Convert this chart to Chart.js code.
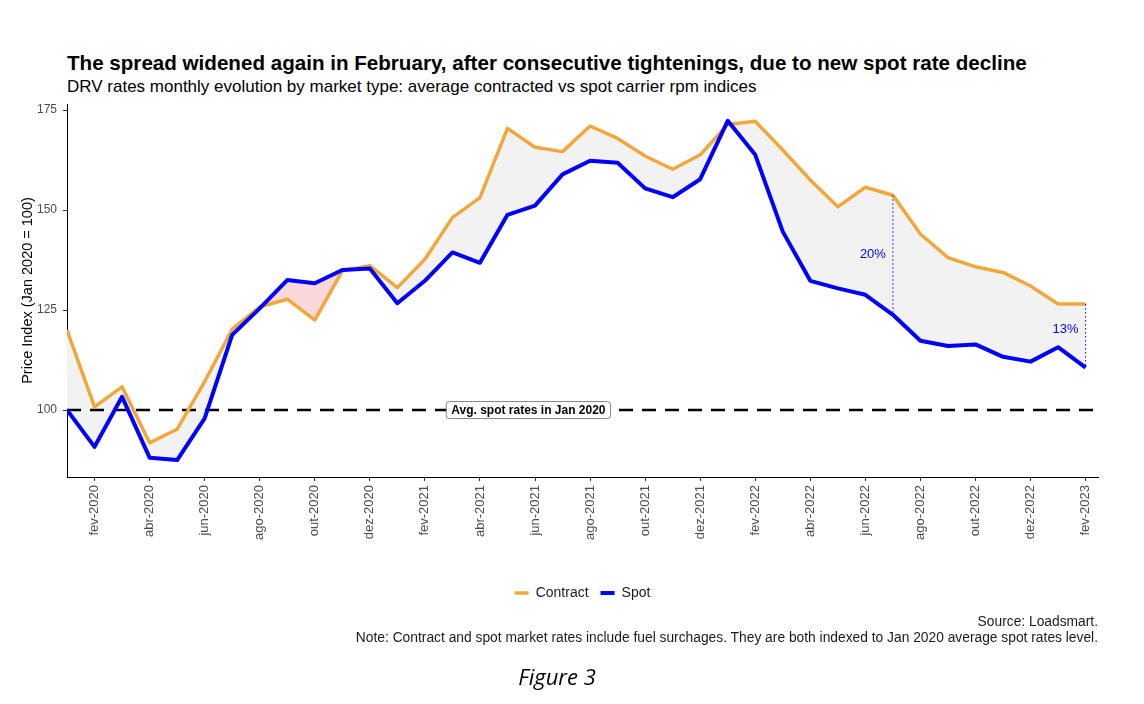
<!DOCTYPE html>
<html>
<head>
<meta charset="utf-8">
<script src="https://cdn.jsdelivr.net/npm/chart.js@4.4.1/dist/chart.umd.min.js"></script>
<style>
  html, body { margin: 0; padding: 0; background: #fff; }
  body { width: 1144px; height: 704px; position: relative; overflow: hidden; font-family: "Liberation Sans", Arial, sans-serif; }
  #chart { position: absolute; left: 0; top: 0; }
  .txt { position: absolute; white-space: nowrap; line-height: 1; color: #000; }
  #title { left: 67px; top: 53px; font-size: 20.6px; font-weight: bold; }
  #subtitle { left: 67px; top: 78px; font-size: 17px; }
  #caption { right: 46px; top: 614px; font-size: 13.8px; text-align: right; line-height: 16px; color: #1a1a1a; }
  #figure { left: 0; width: 1114px; top: 665px; text-align: center; font-family: "Open Sans", sans-serif; font-style: italic; font-size: 22px; }
</style>
</head>
<body>
<div id="title" class="txt">The spread widened again in February, after consecutive tightenings, due to new spot rate decline</div>
<div id="subtitle" class="txt">DRV rates monthly evolution by market type: average contracted vs spot carrier rpm indices</div>
<canvas id="chart" width="1144" height="704"></canvas>
<div id="caption" class="txt">Source: Loadsmart.<br>Note: Contract and spot market rates include fuel surchages. They are both indexed to Jan 2020 average spot rates level.</div>
<div id="figure" class="txt">Figure 3</div>
<script>
// months jan-2020 .. fev-2023
const months = [
  'jan-2020', 'fev-2020', 'mar-2020', 'abr-2020', 'mai-2020', 'jun-2020', 'jul-2020', 'ago-2020', 'set-2020', 'out-2020', 'nov-2020', 'dez-2020',
  'jan-2021', 'fev-2021', 'mar-2021', 'abr-2021', 'mai-2021', 'jun-2021', 'jul-2021', 'ago-2021', 'set-2021', 'out-2021', 'nov-2021', 'dez-2021',
  'jan-2022', 'fev-2022', 'mar-2022', 'abr-2022', 'mai-2022', 'jun-2022', 'jul-2022', 'ago-2022', 'set-2022', 'out-2022', 'nov-2022', 'dez-2022',
  'jan-2023', 'fev-2023'
]
const contract = [
  120.0, 100.8, 105.8, 91.8, 95.2, 107.1, 120.2, 125.8, 127.7, 122.5, 134.8, 136.1,
  130.6, 137.7, 148.1, 153.1, 170.4, 165.7, 164.6, 171.0, 167.9, 163.5, 160.2, 163.8,
  171.4, 172.2, 165.0, 157.5, 150.8, 155.7, 153.7, 144.0, 138.1, 135.8, 134.4, 131.0,
  126.5, 126.5
]
const spot = [
  100.0, 90.8, 103.3, 88.1, 87.5, 97.9, 118.8, 125.4, 132.5, 131.7, 135.0, 135.4,
  126.7, 132.3, 139.4, 136.8, 148.8, 151.1, 158.9, 162.3, 161.8, 155.4, 153.2, 157.7,
  172.3, 163.8, 144.6, 132.3, 130.4, 128.8, 123.8, 117.3, 116.0, 116.4, 113.3, 112.1,
  115.7, 110.6
]
const xTicks = [1, 3, 5, 7, 9, 11, 13, 15, 17, 19, 21, 23, 25, 27, 29, 31, 33, 35, 37]
const yTicks = [100, 125, 150, 175]

const refLine = 100
const refText = 'Avg. spot rates in Jan 2020'
const refLabelX = 16.76

const spreadIdx = [30, 37]
const spreadText = ['20%', '13%']
const spreadLabelY = [138.8, 120.2]

const orange = '#F0A83C'
const blue = '#0000FF'

Chart.defaults.font.family = '"Liberation Sans", Arial, sans-serif'

const toPoints = (arr) => arr.map((v, i) => ({ x: i, y: v }))

const notes = {
  id: 'notes',
  afterDatasetsDraw(chart) {
    const { ctx, scales: { x, y } } = chart
    ctx.save()
    // spread labels
    ctx.font = '13px "Liberation Sans", Arial, sans-serif'
    ctx.fillStyle = blue
    ctx.textAlign = 'right'
    ctx.textBaseline = 'middle'
    spreadIdx.forEach((idx, k) => {
      ctx.fillText(spreadText[k], x.getPixelForValue(idx) - 7, y.getPixelForValue(spreadLabelY[k]))
    })
    // reference label
    ctx.font = 'bold 12px "Liberation Sans", Arial, sans-serif'
    const tw = ctx.measureText(refText).width
    const px = x.getPixelForValue(refLabelX)
    const py = y.getPixelForValue(refLine)
    const w = tw + 10, h = 17
    ctx.beginPath()
    ctx.roundRect(px - w / 2, py - h / 2, w, h, 3)
    ctx.fillStyle = '#fff'
    ctx.fill()
    ctx.strokeStyle = '#666'
    ctx.lineWidth = 0.8
    ctx.stroke()
    ctx.fillStyle = '#000'
    ctx.textAlign = 'center'
    ctx.fillText(refText, px, py + 0.5)
    ctx.restore()
  }
}

const datasets = [
  {
    label: 'Contract',
    data: toPoints(contract),
    borderColor: orange,
    backgroundColor: orange,
    borderWidth: 3.5,
    pointRadius: 0,
    borderJoinStyle: 'round',
    fill: { target: 1, above: '#F2F2F2', below: '#F8D8D8' },
    order: 2
  },
  {
    label: 'Spot',
    data: toPoints(spot),
    borderColor: blue,
    backgroundColor: blue,
    borderWidth: 4,
    pointRadius: 0,
    borderJoinStyle: 'round',
    fill: false,
    order: 1
  },
  {
    label: 'ref',
    data: [{ x: 0, y: refLine }, { x: 37.45, y: refLine }],
    borderColor: '#000',
    borderWidth: 2.5,
    borderDash: [14, 9],
    pointRadius: 0,
    fill: false,
    order: 3
  }
]
spreadIdx.forEach((idx) => {
  datasets.push({
    label: 'spread',
    data: [{ x: idx, y: contract[idx] }, { x: idx, y: spot[idx] }],
    borderColor: blue,
    borderWidth: 1,
    borderDash: [1.5, 2.5],
    pointRadius: 0,
    fill: false,
    order: 0
  })
})

new Chart(document.getElementById('chart'), {
  type: 'line',
  data: { datasets },
  options: {
    responsive: false,
    animation: false,
    devicePixelRatio: 1,
    layout: { padding: { top: 104, left: 10, right: 46, bottom: 94 } },
    scales: {
      x: {
        type: 'linear',
        min: 0,
        max: 37.45,
        afterBuildTicks: (scale) => { scale.ticks = xTicks.map(v => ({ value: v })) },
        afterFit: (scale) => { scale.height = 97 },
        ticks: {
          autoSkip: false,
          minRotation: 90,
          maxRotation: 90,
          padding: 4,
          color: '#4d4d4d',
          font: { size: 13 },
          callback: (v) => months[v]
        },
        grid: { display: true, drawOnChartArea: false, drawTicks: true, tickLength: 4, color: '#333' },
        border: { display: true, color: '#000', width: 1 }
      },
      y: {
        min: 83.26,
        max: 176.5,
        afterBuildTicks: (scale) => { scale.ticks = yTicks.map(v => ({ value: v })) },
        afterFit: (scale) => { scale.width = 57 },
        ticks: { padding: 6, color: '#4d4d4d', font: { size: 12 } },
        grid: { display: true, drawOnChartArea: false, drawTicks: true, tickLength: 4, color: '#333' },
        border: { display: true, color: '#000', width: 1 },
        title: {
          display: true,
          text: 'Price Index (Jan 2020 = 100)',
          color: '#000',
          font: { size: 14.5 },
          padding: { top: 9, bottom: 0 }
        }
      }
    },
    plugins: {
      legend: {
        position: 'bottom',
        fullSize: false,
        labels: {
          filter: (item) => item.datasetIndex < 2,
          sort: (a, b) => a.datasetIndex - b.datasetIndex,
          usePointStyle: true,
          pointStyle: 'line',
          pointStyleWidth: 14,
          padding: 12,
          color: '#1a1a1a',
          font: { size: 14 }
        }
      },
      tooltip: { enabled: false },
      filler: { propagate: false, drawTime: 'beforeDatasetsDraw' }
    }
  },
  plugins: [notes]
})
</script>
</body>
</html>
